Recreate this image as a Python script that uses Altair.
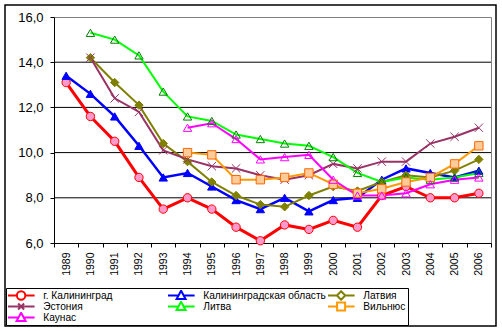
import altair as alt
import pandas as pd

years = [str(y) for y in range(1989, 2007)]
series_names = ["г. Калининград", "Калининградская область", "Латвия",
                "Эстония", "Литва", "Вильнюс", "Каунас"]

kaliningrad = [13.1, 11.6, 10.5, 8.9, 7.5, 8.0, 7.5, 6.7, 6.1, 6.8, 6.6, 7.0, 6.7, 8.1, 8.5, 8.0, 8.0, 8.2]
oblast = [13.4, 12.6, 11.6, 10.3, 8.9, 9.1, 8.5, 7.9, 7.5, 8.0, 7.4, 7.9, 8.0, 8.8, 9.3, 9.1, 8.9, 9.2]
latvia = [None, 14.2, 13.1, 12.1, 10.4, 9.6, 8.7, 8.1, 7.7, 7.6, 8.1, 8.5, 8.3, 8.7, 9.0, 8.9, 9.2, 9.7]
estonia = [None, 14.2, 12.4, 11.8, 10.1, 9.7, 9.4, 9.3, 9.0, 8.8, 9.0, 9.5, 9.3, 9.6, 9.6, 10.4, 10.7, 11.1]
lithuania = [None, 15.3, 15.0, 14.3, 12.7, 11.6, 11.4, 10.8, 10.6, 10.4, 10.3, 9.8, 9.1, 8.7, 8.9, 8.8, 8.9, 9.1]
vilnius = [None, None, None, None, None, 10.0, 9.9, 8.8, 8.8, 8.9, 9.1, 8.6, 8.2, 8.4, 8.7, 8.9, 9.5, 10.3]
kaunas = [None, None, None, None, None, 11.1, 11.3, 10.6, 9.7, 9.8, 9.9, 8.8, 8.1, 8.1, 8.2, 8.6, 8.8, 8.9]

y_ticks = [6, 8, 10, 12, 14, 16]
grid_values = [8, 10, 12, 14]

all_series = [kaliningrad, oblast, latvia, estonia, lithuania, vilnius, kaunas]
rows = []
for name, vals in zip(series_names, all_series):
    for yr, v in zip(years, vals):
        if v is not None:
            rows.append({"series": name, "year": yr, "value": v})
df = pd.DataFrame(rows)
grid_df = pd.DataFrame({"value": grid_values})

FONT = "Liberation Sans"

line_colors = ["#FF0000", "#0000FF", "#808000", "#993366", "#00FF00", "#FF9900", "#FF00FF"]
pt_shapes = ["circle", "triangle-up", "diamond", "M-1,-1L1,1M-1,1L1,-1",
             "triangle-up", "square", "triangle-up"]
pt_fills = ["#FF99CC", "#0000FF", "#808000", "transparent", "transparent", "#FFCC99", "transparent"]
pt_strokes = ["#FF0000", "#0000FF", "#808000", "#993366", "#008000", "#FF6600", "#FF00FF"]

# legend symbols: line + marker (unit = 2 px at symbol size 16)
circ = "M-6.75,0H-2.1M2.1,0H6.75M-2.1,0A2.1,2.1,0,1,1,2.1,0A2.1,2.1,0,1,1,-2.1,0Z"
tri = "M-6.75,0H-1.3M1.3,0H6.75M0,-2.4L2.25,1.75L-2.25,1.75Z"
dia = "M-6.75,0H-2.1M2.1,0H6.75M0,-2.1L2.1,0L0,2.1L-2.1,0Z"
xx = "M-6.75,0H6.75M-1.5,-1.5L1.5,1.5M-1.5,1.5L1.5,-1.5"
sq = "M-6.75,0H-2M2,0H6.75M-2,-2H2V2H-2Z"
leg_shapes = [circ, tri, dia, xx, tri, sq, tri]
leg_fills = ["#FF99CC", "#0000FF", "#808000", "transparent", "transparent", "#FFCC99", "transparent"]
leg_strokes = ["#FF0000", "#0000FF", "#808000", "#993366", "#00FF00", "#FF9900", "#FF00FF"]

y_axis = alt.Axis(title=None, values=y_ticks, tickSize=4, labelPadding=7,
                  labelFontSize=13, labelFont=FONT, labelColor="black",
                  domainColor="black", tickColor="black", grid=False,
                  labelExpr="replace(format(datum.value, '.1f'), '.', ',')")
y_scale = alt.Scale(domain=[6, 16], nice=False, zero=False)

X = alt.X("year:O", sort=years,
          scale=alt.Scale(type="band", paddingInner=0, paddingOuter=0),
          axis=alt.Axis(title=None, labelAngle=-90, tickBand="extent", tickSize=4,
                        labelPadding=5, labelFontSize=10.5, labelFont=FONT,
                        labelColor="black", domainColor="black", tickColor="black",
                        grid=False))
Y = alt.Y("value:Q", scale=y_scale, axis=y_axis)

frame = alt.Chart(grid_df).mark_rect(fill=None, stroke="black", strokeWidth=1.5).encode(
    x=alt.value(-49), x2=alt.value(442), y=alt.value(-12), y2=alt.value(309)
).transform_filter("datum.value == 8")

grid = alt.Chart(grid_df).mark_rule(color="black", strokeWidth=1).encode(
    y=alt.Y("value:Q", scale=y_scale, axis=y_axis)
)

sw = alt.when(alt.datum.series == series_names[0]).then(alt.value(3)).when(
    alt.datum.series == series_names[1]).then(alt.value(2.5)).otherwise(alt.value(2))

lines = alt.Chart(df).mark_line().encode(
    x=X, y=Y,
    color=alt.Color("series:N", scale=alt.Scale(domain=series_names, range=line_colors), legend=None),
    strokeWidth=sw,
    order="year:O",
)

points = alt.Chart(df).mark_point(filled=True, size=70, strokeWidth=1, opacity=1).encode(
    x=X, y=Y,
    shape=alt.Shape("series:N", scale=alt.Scale(domain=series_names, range=pt_shapes), legend=None),
    fill=alt.Fill("series:N", scale=alt.Scale(domain=series_names, range=pt_fills), legend=None),
    stroke=alt.Stroke("series:N", scale=alt.Scale(domain=series_names, range=pt_strokes), legend=None),
)

leg = alt.Legend(title=None, orient="none", legendX=-48, legendY=271, columns=3,
                 direction="horizontal", gridAlign="all", columnPadding=2, rowPadding=0,
                 padding=2, symbolSize=16, symbolOffset=8, labelOffset=17, clipHeight=11,
                 symbolStrokeWidth=2, labelFont=FONT, labelFontSize=10.2, labelColor="black",
                 labelLimit=0, strokeColor="black", fillColor="white")

legend_layer = alt.Chart(df).mark_point(filled=True, opacity=0, size=16).encode(
    x=X, y=Y,
    shape=alt.Shape("series:N", scale=alt.Scale(domain=series_names, range=leg_shapes), legend=leg),
    fill=alt.Fill("series:N", scale=alt.Scale(domain=series_names, range=leg_fills), legend=leg),
    stroke=alt.Stroke("series:N", scale=alt.Scale(domain=series_names, range=leg_strokes), legend=leg),
)

chart = alt.layer(frame, grid, lines, points, legend_layer).resolve_scale(
    shape="independent", fill="independent", stroke="independent", color="independent"
).properties(
    width=437, height=226,
    autosize=alt.AutoSizeParams(type="none"),
    padding={"left": 54, "top": 17, "right": 11, "bottom": 88},
    background="white",
).configure_view(stroke="#808080", strokeWidth=1)

chart.save("out.html", embed_options={"renderer": "svg", "actions": False})
